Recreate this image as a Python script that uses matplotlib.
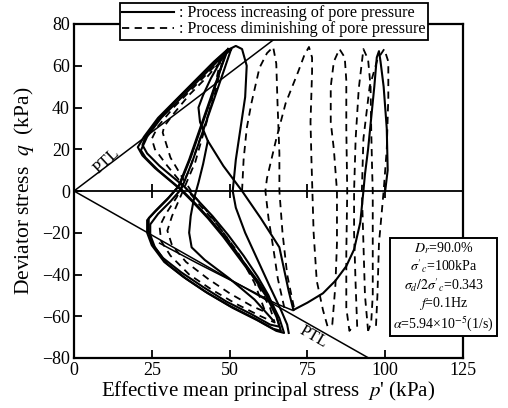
import numpy as np
import matplotlib
matplotlib.use('Agg')
import matplotlib.pyplot as plt
from matplotlib.lines import Line2D

plt.rcParams['font.family'] = ['Liberation Serif', 'DejaVu Serif']
plt.rcParams['mathtext.fontset'] = 'stix'

# ---- data (p' in kPa, q in kPa) ----
# first cycle: compression from p'=100 then extension down to the PTL
first_p = [100, 100.8, 100.5, 99.5, 98.5, 98, 97.3, 96.5, 95.5, 94.5, 93.5, 93, 92, 90, 87.5, 84, 80, 75, 70.5]
first_q = [0, 10, 30, 50, 62, 67, 64, 50, 35, 20, 8, 0, -15, -28, -36, -43, -49, -53.5, -57]

# path back up-left from the PTL to the first peak
back_p = [70.5, 69, 66, 60, 54, 48, 43, 40.5, 40, 41.5, 44, 47, 49.5]
back_q = [-57, -48, -27, -13, 0, 12, 24, 33, 40, 46, 54, 62, 68]

# butterfly loops (solid)
loopA_p = [49.5, 45, 39, 33, 27, 22.5, 20.5, 22, 26, 30, 34, 38, 43, 48, 53, 58, 62, 65, 66.5,
           64, 58, 50, 42, 35, 29, 25, 23.5, 23.5, 26, 30, 33.5, 37, 40.5, 44, 47, 49.5]
loopA_q = [68, 62, 53, 44, 35, 26, 21, 17, 11, 6, 1, -5, -13, -22, -32, -42, -51, -60, -67,
           -66, -61, -55, -48, -41, -34, -26, -20, -14, -10, -4, 2, 15, 30, 45, 58, 68]
loopB_p = [50.5, 46, 40, 34, 28, 23.5, 21.5, 23, 27, 31, 35, 39, 44, 49, 54, 59, 63, 66, 67.5,
           65, 59, 51, 43, 36, 30, 26, 24.5, 24.5, 27, 31, 34.5, 38, 41.5, 45, 48, 50.5]
loopB_q = [68, 62, 53, 44, 35, 26, 19.5, 16, 10, 5, 0, -6, -14, -23, -33, -43, -52, -61, -68,
           -67, -62, -56, -49, -42, -35, -27, -21, -16, -11, -5, 1, 14, 29, 44, 57, 68]
loopC_p = [49, 44.5, 38.5, 32.5, 27, 23, 22, 23.5, 27.5, 31.5, 35.5, 39.5, 44.5, 49.5, 54.5, 59, 62.5, 65, 66,
           63, 57, 49, 41.5, 34.5, 28.5, 25, 24, 24, 26.5, 30.5, 34, 37.5, 41, 44.5, 47, 49]
loopC_q = [67, 61, 52, 43, 34, 26, 22, 18, 12, 7, 2, -4, -12, -21, -31, -41, -50, -59, -65,
           -64, -59, -53, -46, -39, -32, -25, -19, -13, -9, -3, 3, 16, 31, 46, 58, 67]

# right edge of the second loops (peak near p'=54)
edge_p = [50, 52, 54, 55.5, 55, 53.5, 52, 51, 52, 55, 59, 63, 66.5, 68.5, 69]
edge_q = [68, 69.5, 68, 60, 45, 30, 15, 0, -8, -20, -33, -46, -57, -64, -68]

# thin line inside the lower part, and the inner solid loop
low_p = [70, 65, 52, 39.5, 30, 27.5]
low_q = [-57, -54, -44, -34.5, -27, -25]
inner_p = [43, 41.5, 40, 38.5, 37.5, 37, 37.8, 42, 50, 58, 64]
inner_q = [24, 13, 4, -4, -12, -20, -27, -33, -42, -52, -62]

# dashed loops inside the butterfly
dloop1_p = [48, 44, 38, 32, 27, 25, 26, 30, 35, 40, 46, 52, 58, 63, 64.5, 60, 52, 44, 37, 31, 28,
            27.5, 29.5, 33, 37, 41, 45, 48]
dloop1_q = [64, 58, 49, 40, 31, 25, 20, 12, 3, -6, -16, -28, -42, -56, -63, -60, -54, -47, -40, -31, -24,
            -17, -11, -3, 10, 27, 45, 64]
dloop2_p = [47, 43, 37, 32, 29, 28.5, 31, 35, 39, 44, 49, 54, 58, 61.5, 57, 50, 43, 36, 31.5,
            30, 31.5, 35, 39, 43, 47]
dloop2_q = [62, 55, 46, 37, 31, 28, 16, 6, -3, -12, -22, -33, -44, -58, -55, -49, -42, -34, -26,
            -19, -12, 0, 14, 35, 62]

# dashed arches on the right (process with p' increasing)
dA_p = [54, 54.5, 55.5, 57, 59.6, 62, 64, 65, 65.4, 66, 66, 67, 68.5, 70, 71]
dA_q = [0, 15, 30, 42, 59, 66, 69, 61, 42, 18, 0, -20, -40, -51, -58]
dB_p = [67.6, 65.5, 64, 62.5, 61.5, 62, 65, 68, 72, 74, 75.5, 76.5, 76.5, 76, 76.3, 76.6, 77, 78, 80, 81.5, 83]
dB_q = [-56, -42, -27, -13, 0, 6, 25, 42, 57, 65, 69, 64, 57, 33, 15, 0, -20, -43, -57, -65, -64]
dC_p = [83, 84, 84.5, 84.5, 83.5, 82.5, 82.5, 83.5, 85.3, 87, 87.5, 87.5, 87.8, 87.5, 87.5, 88.5, 89.5]
dC_q = [-64, -45, -25, 0, 20, 33, 50, 62, 68, 64, 53, 30, 0, -30, -56, -67, -65]
dD_p = [91, 90.5, 90, 90, 90.5, 91.5, 93, 94.5, 95.3, 95.5, 95.8, 96, 96, 96, 95.5, 94.5]
dD_q = [-65, -45, -20, 0, 25, 49, 68, 63, 50, 30, 10, 0, -25, -50, -63, -67]
dE_p = [94.5, 93.5, 93, 92.5, 93, 95, 97.5, 99.7, 101, 101, 100.5, 99.5, 98, 97.5, 97]
dE_q = [-67, -50, -25, 0, 25, 50, 63, 68, 62, 45, 20, 0, -25, -50, -66]

# phase transformation lines (slopes) and axis ticks
ptl_comp = 1.13
ptl_ext = -0.845
xticks = [0, 25, 50, 75, 100, 125]
yticks = [-80, -60, -40, -20, 0, 20, 40, 60, 80]

fig = plt.figure(figsize=(5.08, 4.08), dpi=100)
ax = fig.add_axes([74/508, 1-358/408, (463-74)/508, (358-24)/408])

solid = [(first_p, first_q), (back_p, back_q), (loopA_p, loopA_q), (loopB_p, loopB_q),
         (loopC_p, loopC_q), (edge_p, edge_q), (inner_p, inner_q)]
for p, q in solid:
    ax.plot(p, q, color='k', lw=1.5)
ax.plot(low_p, low_q, color='k', lw=1.1)

dashed = [(dloop1_p, dloop1_q), (dloop2_p, dloop2_q), (dA_p, dA_q), (dB_p, dB_q),
          (dC_p, dC_q), (dD_p, dD_q), (dE_p, dE_q)]
for p, q in dashed:
    ax.plot(p, q, color='k', lw=1.3, dashes=(4, 3))

# PTL lines and q = 0 line
ax.plot([0, 80/ptl_comp], [0, 80], color='k', lw=1.1)
ax.plot([0, 80/-ptl_ext], [0, -80], color='k', lw=1.1)
ax.axhline(0, color='k', lw=1.3)
ax.plot(xticks[1:5], [0]*4, ls='none', marker='|', ms=10, mew=1.3, color='k')
ax.text(10.5, 14.5, 'PTL', rotation=43, fontsize=12, ha='center', va='center')
ax.text(77, -70, 'PTL', rotation=-30, fontsize=12, ha='center', va='center')

ax.set_xlim(0, 125)
ax.set_ylim(-80, 80)
ax.set_xticks(xticks)
ax.set_yticks(yticks)
ax.tick_params(direction='in', length=6, width=1.3, labelsize=13, pad=3)
for s in ax.spines.values():
    s.set_linewidth(1.6)
ax.set_xlabel("Effective mean principal stress  $p$' (kPa)", fontsize=15, labelpad=0)
ax.set_ylabel("Deviator stress  $q$  (kPa)", fontsize=15.5, labelpad=4)

handles = [Line2D([], [], color='k', lw=1.5),
           Line2D([], [], color='k', lw=1.3, dashes=(4, 3))]
leg = fig.legend(handles, [': Process increasing of pore pressure', ': Process diminishing of pore pressure'],
                 loc='upper left', bbox_to_anchor=(120/508, 1-3/408), fontsize=11.6,
                 frameon=True, fancybox=False, edgecolor='k', framealpha=1,
                 handlelength=3.2, handletextpad=0.3, borderpad=0.15, labelspacing=0.0,
                 borderaxespad=0)
leg.get_frame().set_linewidth(1.3)

info = ("$D_r$=90.0%\n$\\sigma'_c$=100kPa\n$\\sigma_d/2\\sigma'_c$=0.343\n"
        "$f$=0.1Hz\n$\\alpha$=5.94×10$^{-5}$(1/s)")
fig.text(443.5/508, 1-286.5/408, info, ha='center', va='center', fontsize=10,
         multialignment='center', linespacing=1.1,
         bbox=dict(boxstyle='square,pad=0.25', fc='white', ec='k', lw=1.4))

plt.savefig('out.png', dpi=100)
